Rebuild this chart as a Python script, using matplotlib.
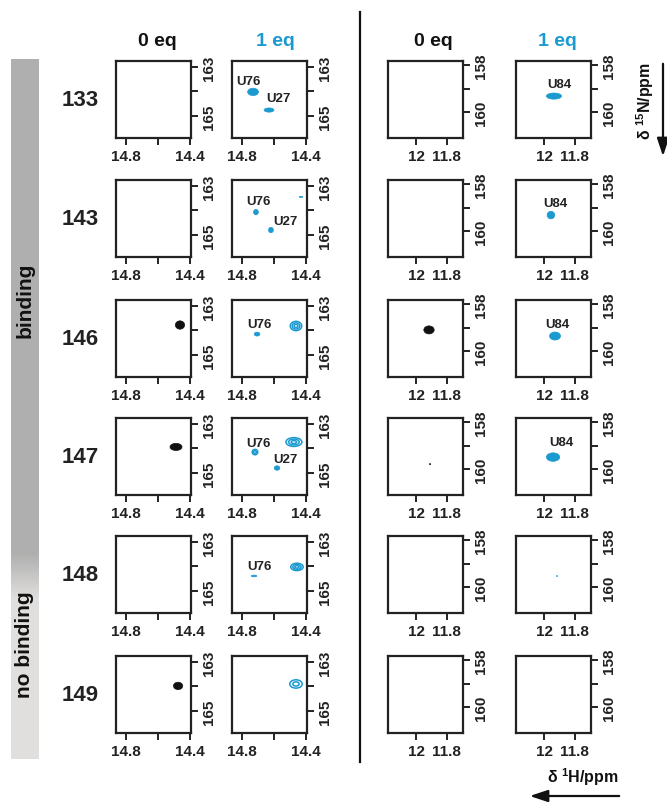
import numpy as np
import matplotlib.pyplot as plt
from matplotlib.patches import Ellipse, FancyArrowPatch
from matplotlib.lines import Line2D

plt.rcParams['font.family'] = ['Liberation Sans', 'DejaVu Sans']
plt.rcParams['font.weight'] = 'bold'
plt.rcParams['mathtext.default'] = 'regular'

W, H = 667, 803
BLUE = '#1b9ad0'
BLACK = '#111111'

constructs = ['133', '143', '146', '147', '148', '149']
headers = ['0 eq', '1 eq', '0 eq', '1 eq']

# axis ranges (ppm) for the two imino regions
left_xlim = (14.865, 14.395)
left_ylim = (165.9, 162.76)
right_xlim = (12.187, 11.693)
right_ylim = (161.1, 157.83)
left_xticks = [14.8, 14.4]
left_xminor = [14.6]
left_yticks = [163, 165]
left_yminor = [164]
right_xticks = [12, 11.8]
right_yticks = [158, 160]
right_yminor = [159]

# peaks: row, panel (0/1 = left 0/1 eq, 2/3 = right 0/1 eq), 1H, 15N, widths, contour levels
peak_row = [0, 0, 0, 1, 1, 1, 1, 2, 2, 2, 2, 2, 3, 3, 3, 3, 3, 3, 4, 4, 4, 5, 5]
peak_col = [1, 1, 3, 1, 1, 1, 3, 0, 1, 1, 2, 3, 0, 1, 1, 1, 2, 3, 1, 1, 3, 0, 1]
peak_h = [14.733, 14.633, 11.937, 14.715, 14.621, 14.433, 11.957,
          14.464, 14.708, 14.464, 11.917, 11.93,
          14.489, 14.721, 14.477, 14.583, 11.91, 11.943,
          14.727, 14.458, 11.917, 14.476, 14.464]
peak_n = [164.02, 164.76, 159.32, 164.07, 164.8, 163.45, 159.32,
          163.78, 164.15, 163.82, 159.1, 159.36,
          163.94, 164.15, 163.74, 164.8, 159.79, 159.49,
          164.39, 164.02, 159.53, 163.98, 163.9]
peak_wh = [0.068, 0.062, 0.1, 0.03, 0.03, 0.022, 0.05,
           0.058, 0.035, 0.072, 0.068, 0.072,
           0.075, 0.035, 0.1, 0.035, 0.008, 0.088,
           0.035, 0.078, 0.007, 0.058, 0.078]
peak_wn = [0.3, 0.17, 0.26, 0.22, 0.22, 0.05, 0.32,
           0.34, 0.16, 0.38, 0.34, 0.34,
           0.29, 0.22, 0.36, 0.18, 0.05, 0.36,
           0.07, 0.3, 0.04, 0.3, 0.34]
peak_lv = [1, 1, 1, 1, 1, 1, 1,
           1, 1, 3, 1, 1,
           1, 2, 3, 1, 1, 1,
           1, 3, 1, 1, 2]

label_row = [0, 0, 0, 1, 1, 1, 2, 2, 3, 3, 3, 4]
label_col = [1, 1, 3, 1, 1, 3, 1, 3, 1, 1, 3, 1]
label_txt = ['U76', 'U27', 'U84', 'U76', 'U27', 'U84', 'U76', 'U84', 'U76', 'U27', 'U84', 'U76']
label_h = [14.765, 14.577, 11.904, 14.702, 14.527, 11.93, 14.696, 11.917, 14.702, 14.527, 11.89, 14.696]
label_n = [163.58, 164.27, 158.8, 163.62, 164.43, 158.8, 163.74, 158.85, 163.78, 164.43, 158.85, 163.98]

fig = plt.figure(figsize=(W / 100, H / 100), dpi=100)


def px_axes(x, y, w, h):
    return fig.add_axes([x / W, 1 - (y + h) / H, w / W, h / H])


def fmt(v):
    return ('%g' % v)


col_left = [116, 232, 388, 516]
row_top = [62, 181, 301, 419, 537, 657]
pw, ph = 75, 77

axes = []
for r in range(len(constructs)):
    row_axes = []
    for c in range(4):
        ax = px_axes(col_left[c], row_top[r], pw, ph)
        if c < 2:
            ax.set_xlim(*left_xlim)
            ax.set_ylim(*left_ylim)
            ax.set_xticks(left_xticks)
            ax.set_xticks(left_xminor, minor=True)
            ax.set_yticks(left_yticks)
            ax.set_yticks(left_yminor, minor=True)
            ax.set_xticklabels([fmt(v) for v in left_xticks])
            ax.set_yticklabels([fmt(v) for v in left_yticks])
        else:
            ax.set_xlim(*right_xlim)
            ax.set_ylim(*right_ylim)
            ax.set_xticks(right_xticks)
            ax.set_yticks(right_yticks)
            ax.set_yticks(right_yminor, minor=True)
            ax.set_xticklabels([fmt(v) for v in right_xticks])
            ax.set_yticklabels([fmt(v) for v in right_yticks])
        ax.yaxis.tick_right()
        ax.tick_params(axis='both', which='both', direction='out', length=5,
                       width=1.4, labelsize=11, pad=3, colors='#222222')
        for lab in ax.get_yticklabels():
            lab.set_rotation(90)
            lab.set_va('center')
            lab.set_fontweight('bold')
        for lab in ax.get_xticklabels():
            lab.set_fontweight('bold')
        for s in ax.spines.values():
            s.set_linewidth(1.6)
            s.set_color('#222222')
        row_axes.append(ax)
    axes.append(row_axes)

# peaks: single level drawn filled, multi-level drawn as nested contour rings
for r, c, xh, yn, wh, wn, lv in zip(peak_row, peak_col, peak_h, peak_n, peak_wh, peak_wn, peak_lv):
    ax = axes[r][c]
    col = BLUE if c in (1, 3) else BLACK
    if lv == 1:
        ax.add_patch(Ellipse((xh, yn), wh, wn, facecolor=col, edgecolor=col, lw=0.5))
    else:
        for k in range(lv):
            s = 1 - k / lv
            ax.add_patch(Ellipse((xh, yn), wh * s, wn * s, facecolor='none',
                                 edgecolor=col, lw=1.1))

for r, c, t, xh, yn in zip(label_row, label_col, label_txt, label_h, label_n):
    axes[r][c].text(xh, yn, t, ha='center', va='center', fontsize=9.5,
                    fontweight='bold', color='#222222')

# row labels
for r, name in enumerate(constructs):
    fig.text(80 / W, 1 - (row_top[r] + ph / 2) / H, name, ha='center', va='center',
             fontsize=16, fontweight='bold', color='#222222')

# column headers
head_x = [157, 275, 433, 557]
head_c = ['#111111', BLUE, '#111111', BLUE]
for hx, txt, hc in zip(head_x, headers, head_c):
    fig.text(hx / W, 1 - 41 / H, txt, ha='center', va='center', fontsize=14,
             fontweight='bold', color=hc)

# binding / no binding side bar
bar = px_axes(11, 60, 28, 700)
ypix = np.arange(700) + 60
mix = np.clip((ypix - 555) / 45.0, 0, 1)
top_c = np.array([0.69, 0.69, 0.69])
bot_c = np.array([0.886, 0.878, 0.868])
grad = top_c[None, :] * (1 - mix[:, None]) + bot_c[None, :] * mix[:, None]
bar.imshow(grad[:, None, :], aspect='auto', extent=(0, 1, 1, 0))
bar.set_axis_off()
fig.text(25 / W, 1 - 300 / H, 'binding', rotation=90, ha='center', va='center',
         fontsize=15, fontweight='bold', color='#111111')
fig.text(25 / W, 1 - 645 / H, 'no binding', rotation=90, ha='center', va='center',
         fontsize=15, fontweight='bold', color='#111111')

# divider
fig.add_artist(Line2D([360 / W, 360 / W], [1 - 13 / H, 1 - 763 / H],
                      color='#111111', lw=1.6, transform=fig.transFigure))

# axis titles with arrows
fig.text(645 / W, 1 - 101 / H, 'δ $^{15}$N/ppm', rotation=90, ha='center', va='center',
         fontsize=11.5, fontweight='bold', color='#111111')
fig.add_artist(FancyArrowPatch((663 / W, 1 - 62 / H), (663 / W, 1 - 160 / H),
                               transform=fig.transFigure, color='#111111', lw=1.6,
                               arrowstyle='-|>,head_length=0.9,head_width=0.3',
                               mutation_scale=12))
fig.text(583 / W, 1 - 777 / H, 'δ $^{1}$H/ppm', ha='center', va='center',
         fontsize=11.5, fontweight='bold', color='#111111')
fig.add_artist(FancyArrowPatch((622 / W, 1 - 797 / H), (527 / W, 1 - 797 / H),
                               transform=fig.transFigure, color='#111111', lw=1.6,
                               arrowstyle='-|>,head_length=0.9,head_width=0.3',
                               mutation_scale=12))

fig.savefig('out.png', dpi=100, facecolor='white')
